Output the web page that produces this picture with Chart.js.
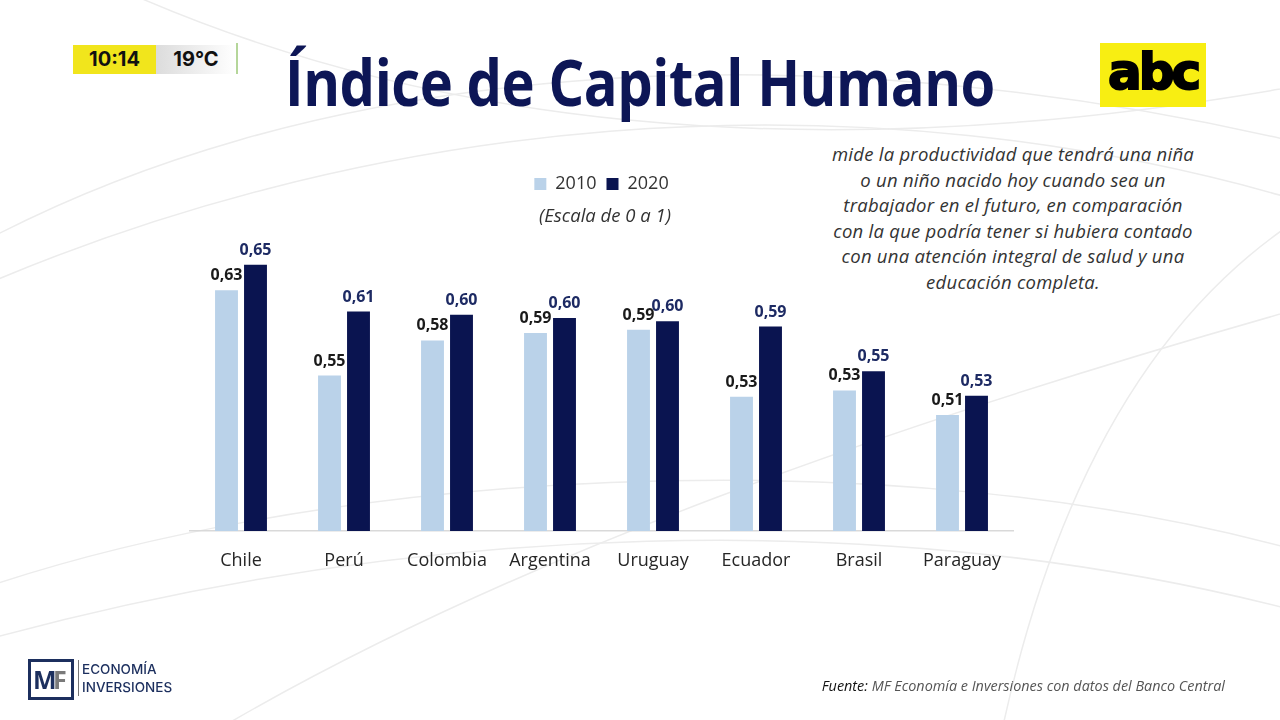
<!DOCTYPE html>
<html lang="es">
<head>
<meta charset="utf-8">
<title>Índice de Capital Humano</title>
<script src="https://cdn.jsdelivr.net/npm/chart.js@4.4.1/dist/chart.umd.min.js"></script>
<style>
  html, body { margin: 0; padding: 0; }
  body { width: 1280px; height: 720px; position: relative; overflow: hidden; background: #fff; font-family: "Open Sans", sans-serif; }
  #bg { position: absolute; left: 0; top: 0; }
  #chartBox { position: absolute; left: 0; top: 0; width: 1280px; height: 720px; }
  .abs { position: absolute; }
  #title { left: 285px; top: 38px; font-weight: 700; font-size: 64px; color: #0d1656; white-space: nowrap; transform-origin: 0 0; letter-spacing: -0.5px; }
  #scale { left: 0; width: 1210px; top: 202px; text-align: center; font-style: italic; font-size: 18.5px; color: #333; }
  #desc { left: 763px; width: 500px; top: 141px; text-align: center; font-style: italic; font-size: 18.5px; letter-spacing: 0.25px; line-height: 25.5px; color: #333; white-space: nowrap; }
  #source { right: 55px; top: 676px; font-style: italic; font-size: 14.4px; color: #555; white-space: nowrap; }
  #source b { font-weight: 400; color: #111; }
  #clock { left: 73px; top: 45px; width: 83px; height: 29px; background: #f1e51c; font-family: Inter, sans-serif; font-weight: 700; font-size: 20px; line-height: 29px; text-align: center; color: #111; }
  #temp { left: 156px; top: 45px; width: 80px; height: 29px; background: linear-gradient(90deg, #dcdcdc, #ffffff); font-family: Inter, sans-serif; font-weight: 700; font-size: 20px; line-height: 29px; text-align: center; color: #111; }
  #tempLine { left: 236px; top: 43px; width: 2px; height: 31px; background: #b5d69a; }
  #abc { left: 1100px; top: 43px; width: 106px; height: 64px; background: #f8ee12; }
  #abc span { position: absolute; left: 0; width: 106px; top: 4px; text-align: center; font-family: "DejaVu Sans", sans-serif; font-weight: 700; font-size: 50px; letter-spacing: -3px; color: #000; line-height: 50px; -webkit-text-stroke: 2px #000; }
  #mf { left: 28px; top: 659px; width: 40px; height: 35px; border: 3px solid #1c2f5e; }
  #mf span { position: absolute; top: 3px; font-family: "Open Sans", sans-serif; font-weight: 700; font-size: 25px; line-height: 28px; }
  #mfText { left: 78px; top: 660px; font-family: Inter, sans-serif; font-weight: 500; font-size: 13.5px; line-height: 18px; color: #1c2f5e; border-left: 1px solid #777; padding-left: 3px; }
</style>
</head>
<body>
<svg id="bg" width="1280" height="720">
  <g fill="none" stroke="#ececec" stroke-width="1.5">
    <path d="M -50 260 C 300 60, 800 20, 1330 150"/>
    <path d="M -50 300 C 350 120, 850 60, 1330 210"/>
    <path d="M -50 600 C 300 470, 900 430, 1330 560"/>
    <path d="M -50 650 C 400 520, 900 500, 1330 620"/>
    <path d="M 200 740 C 500 560, 900 420, 1330 300"/>
    <path d="M 100 -20 C 400 120, 800 180, 1330 80"/>
    <path d="M 1000 740 C 1050 500, 1150 300, 1330 200"/>
  </g>
</svg>

<div id="clock" class="abs">10:14</div>
<div id="temp" class="abs">19°C</div>
<div id="tempLine" class="abs"></div>
<div id="title" class="abs">Índice de Capital Humano</div>
<div id="abc" class="abs"><span>abc</span></div>

<div id="desc" class="abs">mide la productividad que tendrá una niña<br>o un niño nacido hoy cuando sea un<br>trabajador en el futuro, en comparación<br>con la que podría tener si hubiera contado<br>con una atención integral de salud y una<br>educación completa.</div>

<div id="chartBox"><canvas id="chart" width="1280" height="720"></canvas></div>
<div id="scale" class="abs">(Escala de 0 a 1)</div>

<div id="mf" class="abs"><span style="left:2px;color:#1c2f5e">M</span><span style="left:22px;color:#7a7a7a">F</span></div>
<div id="mfText" class="abs">ECONOMÍA<br>INVERSIONES</div>
<div id="source" class="abs"><b>Fuente:</b> MF Economía e Inversiones con datos del Banco Central</div>

<script>
// valores (escala de 0 a 1)
const countries = ['Chile', 'Perú', 'Colombia', 'Argentina', 'Uruguay', 'Ecuador', 'Brasil', 'Paraguay'];
const values2010 = [0.626, 0.546, 0.579, 0.586, 0.589, 0.526, 0.532, 0.509];
const values2020 = [0.650, 0.606, 0.603, 0.600, 0.597, 0.592, 0.550, 0.527];
const seriesNames = ['2010', '2020'];

// fit title to its width in the picture
const title = document.getElementById('title');
title.style.transform = 'scaleX(' + (710 / title.offsetWidth) + ')';

const valueLabels = {
  id: 'valueLabels',
  afterDatasetsDraw(chart) {
    const ctx = chart.ctx;
    ctx.save();
    ctx.font = 'bold 16px "Open Sans"';
    ctx.textAlign = 'center';
    ctx.textBaseline = 'alphabetic';
    chart.data.datasets.forEach((ds, i) => {
      const meta = chart.getDatasetMeta(i);
      ctx.fillStyle = i === 0 ? '#1a1a1a' : '#1d2a63';
      meta.data.forEach((bar, j) => {
        const txt = ds.data[j].toFixed(2).replace('.', ',');
        ctx.fillText(txt, bar.x, bar.y - 10);
      });
    });
    ctx.restore();
  }
};

new Chart(document.getElementById('chart'), {
  type: 'bar',
  data: {
    labels: countries,
    datasets: [
      { label: seriesNames[0], data: values2010, backgroundColor: '#bad2e9' },
      { label: seriesNames[1], data: values2020, backgroundColor: '#0a1450' }
    ]
  },
  options: {
    responsive: false,
    animation: false,
    events: [],
    categoryPercentage: 0.563,
    barPercentage: 0.79,
    layout: { padding: { left: 189.5, right: 266.5, top: 165, bottom: 139 } },
    plugins: {
      tooltip: { enabled: false },
      legend: {
        position: 'top',
        labels: {
          boxWidth: 12,
          boxHeight: 12,
          padding: 10,
          color: '#333',
          font: { family: 'Open Sans', size: 18 }
        }
      }
    },
    scales: {
      x: {
        grid: { display: false },
        border: { display: true, color: '#d9d9d9', width: 1.5 },
        ticks: { color: '#262626', padding: 11, font: { family: 'Open Sans', size: 18 } },
        afterFit: (s) => { s.height = 50; }
      },
      y: {
        display: false,
        min: 0.40,
        max: 0.708
      }
    }
  },
  plugins: [valueLabels]
});
</script>
</body>
</html>
